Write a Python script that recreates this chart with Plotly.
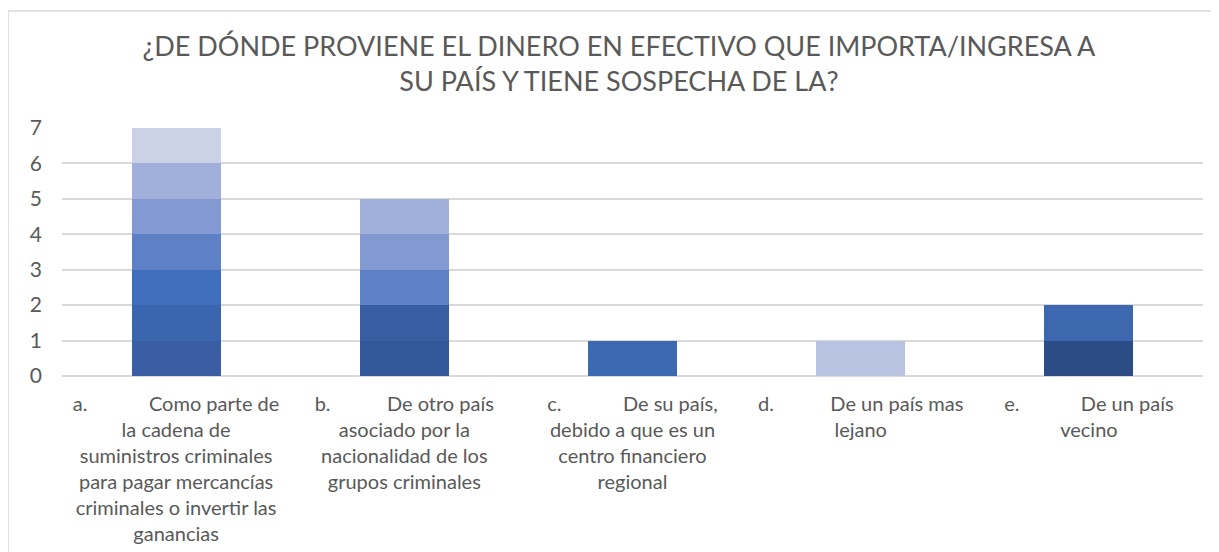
import plotly.graph_objects as go

NB = "\u00a0"
categories = ["a", "b", "c", "d", "e"]
tick_labels = [
    "a." + NB * 12 + "Como parte de<br>la cadena de<br>suministros criminales<br>para pagar mercancías<br>criminales o invertir las<br>ganancias",
    "b." + NB * 11 + "De otro país<br>asociado por la<br>nacionalidad de los<br>grupos criminales",
    "c." + NB * 12 + "De su país,<br>debido a que es un<br>centro financiero<br>regional",
    "d." + NB * 11 + "De un país mas<br>lejano",
    "e." + NB * 12 + "De un país<br>vecino",
]
# stacked unit segments, bottom to top (each layer = one series)
layer_values = [
    [1, 1, 1, 1, 1],
    [1, 1, 0, 0, 1],
    [1, 1, 0, 0, 0],
    [1, 1, 0, 0, 0],
    [1, 1, 0, 0, 0],
    [1, 0, 0, 0, 0],
    [1, 0, 0, 0, 0],
]
layer_colors = [
    ["#3A5DA3", "#33589A", "#3D69B2", "#B7C3E1", "#2B4C85"],
    ["#3B65AE", "#385DA1", "#FFFFFF", "#FFFFFF", "#3D68AF"],
    ["#3E6EBC", "#5E80C5", "#FFFFFF", "#FFFFFF", "#FFFFFF"],
    ["#5E80C5", "#8299D1", "#FFFFFF", "#FFFFFF", "#FFFFFF"],
    ["#8299D1", "#A0B0DA", "#FFFFFF", "#FFFFFF", "#FFFFFF"],
    ["#A0B0DA", "#FFFFFF", "#FFFFFF", "#FFFFFF", "#FFFFFF"],
    ["#CBD2E8", "#FFFFFF", "#FFFFFF", "#FFFFFF", "#FFFFFF"],
]

fig = go.Figure()
for i, (vals, cols) in enumerate(zip(layer_values, layer_colors)):
    fig.add_trace(go.Bar(
        x=categories, y=vals, name=f"Serie {i+1}",
        marker=dict(color=cols, line=dict(width=0)),
        showlegend=False, hoverinfo="skip",
    ))

W, H = 1211, 544  # page body has an 8px margin
L, R, T, B = 54, 16, 120, 176
fig.update_layout(
    barmode="stack", bargap=0.61,
    width=W, height=H,
    margin=dict(l=L, r=R, t=T, b=B, autoexpand=False),
    paper_bgcolor="white", plot_bgcolor="white",
    font=dict(family="Lato", color="#595959"),
    title=dict(
        text="¿DE DÓNDE PROVIENE EL DINERO EN EFECTIVO QUE IMPORTA/INGRESA A<br>SU PAÍS Y TIENE SOSPECHA DE LA?",
        x=0.5045, xanchor="center", y=0.9125, yanchor="top",
        font=dict(size=27, color="#595959", family="Lato"),
    ),
    xaxis=dict(
        tickmode="array", tickvals=categories, ticktext=tick_labels,
        tickfont=dict(size=20, color="#595959"), tickangle=0, automargin=False,
        showgrid=False, showline=False, ticks="", ticklabelstandoff=14,
    ),
    yaxis=dict(
        range=[0, 7], dtick=1, tickfont=dict(size=21, color="#595959"),
        automargin=False,
        showgrid=True, gridcolor="#D9D9D9", gridwidth=1.5,
        zeroline=True, zerolinecolor="#D9D9D9", zerolinewidth=1.5,
        showline=False, ticks="", ticklabelstandoff=19,
    ),
)

pw = W - L - R
ph = H - T - B
def px_x(p):
    return (p - L) / pw
def px_y(p):
    return (H - B - p) / ph

fig.add_shape(type="line", xref="paper", yref="paper",
              x0=px_x(0), x1=px_x(1230), y0=px_y(3), y1=px_y(3),
              line=dict(color="#D9D9D9", width=1.5), layer="below")
fig.add_shape(type="line", xref="paper", yref="paper",
              x0=px_x(0), x1=px_x(0), y0=px_y(3), y1=px_y(560),
              line=dict(color="#D9D9D9", width=1.5), layer="below")

fig.write_html("out.html")
